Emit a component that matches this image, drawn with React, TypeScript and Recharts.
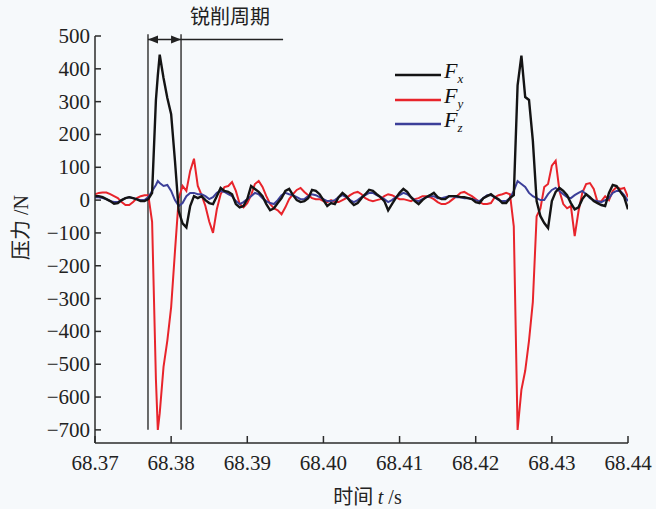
import React from "react";
import { LineChart, Line, XAxis, YAxis, ReferenceLine, Legend } from "recharts";

// time grid in s (one extra sample at the first Fy minimum)
const times = [
  68.3700, 68.3705, 68.3710, 68.3715, 68.3720, 68.3725, 68.3730, 68.3735, 68.3740, 68.3745,
  68.3750, 68.3755, 68.3760, 68.3765, 68.3770, 68.3775, 68.3780, 68.37825, 68.3785, 68.3790, 68.3795,
  68.3800, 68.3805, 68.3810, 68.3815, 68.3820, 68.3825, 68.3830, 68.3835, 68.3840, 68.3845,
  68.3850, 68.3855, 68.3860, 68.3865, 68.3870, 68.3875, 68.3880, 68.3885, 68.3890, 68.3895,
  68.3900, 68.3905, 68.3910, 68.3915, 68.3920, 68.3925, 68.3930, 68.3935, 68.3940, 68.3945,
  68.3950, 68.3955, 68.3960, 68.3965, 68.3970, 68.3975, 68.3980, 68.3985, 68.3990, 68.3995,
  68.4000, 68.4005, 68.4010, 68.4015, 68.4020, 68.4025, 68.4030, 68.4035, 68.4040, 68.4045,
  68.4050, 68.4055, 68.4060, 68.4065, 68.4070, 68.4075, 68.4080, 68.4085, 68.4090, 68.4095,
  68.4100, 68.4105, 68.4110, 68.4115, 68.4120, 68.4125, 68.4130, 68.4135, 68.4140, 68.4145,
  68.4150, 68.4155, 68.4160, 68.4165, 68.4170, 68.4175, 68.4180, 68.4185, 68.4190, 68.4195,
  68.4200, 68.4205, 68.4210, 68.4215, 68.4220, 68.4225, 68.4230, 68.4235, 68.4240, 68.4245,
  68.4250, 68.4255, 68.4260, 68.4265, 68.4270, 68.4275, 68.4280, 68.4285, 68.4290, 68.4295,
  68.4300, 68.4305, 68.4310, 68.4315, 68.4320, 68.4325, 68.4330, 68.4335, 68.4340, 68.4345,
  68.4350, 68.4355, 68.4360, 68.4365, 68.4370, 68.4375, 68.4380, 68.4385, 68.4390, 68.4395,
  68.4400,
];

const fx = [
  12, 12, 9, 3, -3, -11, -9, 0, 6, 9,
  6, 2, -3, -3, 3, 22, 305, 380, 443, 372, 311,
  262, 120, -34, -71, -83, -18, 12, 6, 12, 0,
  -9, -12, 12, 37, 28, 25, 18, -12, -22, -18,
  3, 43, 34, 25, 12, -12, -31, -25, -9, 6,
  28, 34, 15, 0, -6, -3, 6, 31, 28, 18,
  0, -18, -9, -12, 9, 22, 12, -3, -15, -9,
  6, 18, 31, 28, 18, 9, -3, -31, -12, 6,
  22, 34, 25, 9, -3, -12, 0, 9, 15, 22,
  9, 3, 3, 12, 12, 12, 9, 9, 6, 3,
  -6, -9, 6, 12, 18, 9, 3, -9, -9, 6,
  15, 350, 440, 314, 305, 182, -3, -49, -70, -85,
  -3, 25, 37, 28, 15, -9, -28, -22, 3, 18,
  9, -3, -9, -15, -18, 22, 46, 43, 25, 9,
  -28,
];

const fy = [
  18, 22, 23, 23, 18, 12, 6, -6, -15, -15,
  -6, 6, 12, 15, 15, -66, -546, -700, -649, -508, -428,
  -326, -157, 6, 43, 28, 89, 126, 43, 15, -18,
  -65, -100, -28, 18, 40, 43, 55, 28, -12, -22,
  -9, 15, 49, 58, 40, 12, -12, -25, -31, -43,
  -22, 3, 18, 31, 37, 25, 15, 6, 3, 3,
  -3, -6, 0, -6, -6, 0, 6, 15, 22, 25,
  18, 6, 0, -3, 0, 3, 12, 18, 15, 9,
  3, 3, 0, -3, 3, 6, 12, 12, 9, 3,
  -6, -12, -12, -6, 3, 12, 22, 25, 18, 12,
  3, -6, -12, -12, -9, 9, 15, 18, 22, 18,
  -80, -700, -578, -520, -428, -311, -49, -25, 40, 49,
  105, 120, 28, -12, -25, -18, -110, -34, 22, 49,
  52, 34, -6, -3, 12, 0, 28, 40, 34, 37,
  9,
];

const fz = [
  9, 9, 6, 3, -3, -6, -6, 0, 6, 9,
  6, 3, 0, 0, 9, 28, 46, 58, 52, 43, 46,
  28, 0, -18, -9, 12, 22, 22, 18, 18, 12,
  3, 9, 22, 28, 25, 18, 12, -3, -12, -6,
  3, 12, 22, 18, 6, -3, -9, -12, 0, 15,
  22, 18, 15, 9, 3, 3, 12, 18, 15, 9,
  3, -3, -3, 0, 9, 15, 9, 0, -6, 0,
  9, 15, 22, 22, 15, 9, 3, -6, 0, 9,
  15, 22, 18, 9, 0, -3, 3, 9, 12, 12,
  6, 6, 9, 12, 12, 9, 9, 6, 6, 3,
  0, -3, 6, 15, 15, 9, 0, -3, -3, 6,
  28, 58, 49, 40, 22, 12, 6, 0, 0, 18,
  31, 37, 28, 18, 9, 6, 15, 22, 28, 18,
  6, 0, -3, -6, 0, 6, 22, 28, 28, 15,
  -3,
];

const xTicks = [68.37, 68.38, 68.39, 68.4, 68.41, 68.42, 68.43, 68.44];
const yTicks = [-700, -600, -500, -400, -300, -200, -100, 0, 100, 200, 300, 400, 500];

// cutting-cycle bracket, in data units
const cycleStart = 68.37696;
const cycleEnd = 68.3813;
const bracketEnd = 68.3947;
const bracketY = 489;
const markTop = 505;
const markBottom = -700;

const data = times.map((t, i) => ({ t, fx: fx[i], fy: fy[i], fz: fz[i] }));

const NUM_FONT = "Liberation Serif";
const CJK_FONT = "Noto Sans CJK SC";
const AXIS = "#2b2b2b";

function fmtY(v: number) {
  return v < 0 ? `\u2212${Math.abs(v)}` : `${v}`;
}

function YTick(props: any) {
  const { x, y, payload } = props;
  return (
    <g>
      <line x1={x + 5} x2={x + 11} y1={y} y2={y} stroke={AXIS} strokeWidth={1.5} />
      <text x={x} y={y} dy={7} textAnchor="end" fontFamily={NUM_FONT} fontSize={21} fill="#222">
        {fmtY(payload.value)}
      </text>
    </g>
  );
}

function XTick(props: any) {
  const { x, y, payload } = props;
  return (
    <g>
      <line x1={x} x2={x} y1={y - 4} y2={y - 11} stroke={AXIS} strokeWidth={1.5} />
      <text x={x} y={y + 23} textAnchor="middle" fontFamily={NUM_FONT} fontSize={21} fill="#222">
        {Number(payload.value).toFixed(2)}
      </text>
    </g>
  );
}

function YTitle(props: any) {
  const vb = props.viewBox || { x: 0, y: 36, width: 95, height: 407 };
  const cx = vb.x + 21;
  const cy = vb.y + vb.height / 2 - 12;
  return (
    <text x={cx} y={cy} transform={`rotate(-90 ${cx} ${cy})`} textAnchor="middle" dy={7} fontSize={20} fill="#222">
      <tspan fontFamily={CJK_FONT}>压力</tspan>
      <tspan fontFamily={NUM_FONT}> /N</tspan>
    </text>
  );
}

function XTitle(props: any) {
  const vb = props.viewBox || { x: 95, y: 443, width: 533, height: 66 };
  return (
    <text x={vb.x + vb.width / 2 + 6} y={vb.y + 61} textAnchor="middle" fontSize={20} fill="#222">
      <tspan fontFamily={CJK_FONT}>时间 </tspan>
      <tspan fontFamily={NUM_FONT} fontStyle="italic">t</tspan>
      <tspan fontFamily={NUM_FONT}> /s</tspan>
    </text>
  );
}

function DoubleArrow(p: any) {
  const { x1, y1, x2 } = p;
  const h = 10;
  const w = 4;
  return (
    <g>
      <line x1={x1} y1={y1} x2={x2} y2={y1} stroke="#222" strokeWidth={1.5} />
      <path d={`M${x1},${y1} L${x1 + h},${y1 - w} L${x1 + h},${y1 + w} Z`} fill="#222" />
      <path d={`M${x2},${y1} L${x2 - h},${y1 - w} L${x2 - h},${y1 + w} Z`} fill="#222" />
    </g>
  );
}

function CycleLabel(props: any) {
  const vb = props.viewBox;
  if (!vb) return null;
  return (
    <text x={vb.x + vb.width / 2 - 2} y={vb.y - 16} textAnchor="middle" fontFamily={CJK_FONT} fontSize={20} fill="#222">
      锐削周期
    </text>
  );
}

function LegendBox(props: any) {
  const items = [...(props.payload || [])].sort((a: any, b: any) => String(a.value).localeCompare(String(b.value)));
  return (
    <div style={{ display: "flex", flexDirection: "column" }}>
      {items.map((e: any) => (
        <div key={e.value} style={{ display: "flex", alignItems: "center", height: 24.5 }}>
          <svg width={46} height={6}>
            <line x1={0} x2={46} y1={3} y2={3} stroke={e.color} strokeWidth={2.5} />
          </svg>
          <span style={{ fontFamily: NUM_FONT, fontStyle: "italic", fontSize: 22, marginLeft: 3, lineHeight: "22px", color: "#111" }}>
            F<sub style={{ fontSize: 13 }}>{String(e.value).slice(1)}</sub>
          </span>
        </div>
      ))}
    </div>
  );
}

export default function App() {
  return (
    <div style={{ position: "absolute", left: 0, top: 0, width: 656, height: 509, background: "#f6f9fb" }}>
      <LineChart width={656} height={509} data={data} margin={{ top: 36, right: 28, bottom: 0, left: 0 }}>
        <XAxis
          dataKey="t"
          type="number"
          domain={[68.37, 68.44]}
          ticks={xTicks}
          tick={<XTick />}
          tickLine={false}
          tickSize={0}
          tickMargin={4}
          height={66}
          axisLine={{ stroke: AXIS, strokeWidth: 1.5 }}
          interval={0}
          allowDataOverflow
          label={<XTitle />}
        />
        <YAxis
          type="number"
          domain={[-740, 500]}
          ticks={yTicks}
          tick={<YTick />}
          tickLine={false}
          tickSize={0}
          tickMargin={5}
          width={95}
          axisLine={{ stroke: AXIS, strokeWidth: 1.5 }}
          interval={0}
          allowDataOverflow
          label={<YTitle />}
        />
        <Legend
          layout="vertical"
          align="center"
          verticalAlign="middle"
          content={<LegendBox />}
          wrapperStyle={{ left: 395, top: 63, width: 90, height: 75 }}
        />
        <ReferenceLine
          segment={[{ x: cycleStart, y: markBottom }, { x: cycleStart, y: markTop }]}
          stroke="#3a3a3a"
          strokeWidth={1.5}
          ifOverflow="visible"
        />
        <ReferenceLine
          segment={[{ x: cycleEnd, y: markBottom }, { x: cycleEnd, y: markTop }]}
          stroke="#3a3a3a"
          strokeWidth={1.5}
          ifOverflow="visible"
        />
        <ReferenceLine
          segment={[{ x: cycleStart, y: bracketY }, { x: cycleEnd, y: bracketY }]}
          ifOverflow="visible"
          shape={DoubleArrow}
        />
        <ReferenceLine
          segment={[{ x: cycleEnd, y: bracketY }, { x: bracketEnd, y: bracketY }]}
          stroke="#222"
          strokeWidth={1.5}
          ifOverflow="visible"
          label={<CycleLabel />}
        />
        <Line type="linear" dataKey="fy" name="Fy" stroke="#e8242b" strokeWidth={2} dot={false} isAnimationActive={false} />
        <Line type="linear" dataKey="fz" name="Fz" stroke="#3c3f99" strokeWidth={2} dot={false} isAnimationActive={false} />
        <Line type="linear" dataKey="fx" name="Fx" stroke="#141414" strokeWidth={2.4} dot={false} isAnimationActive={false} />
      </LineChart>
    </div>
  );
}
